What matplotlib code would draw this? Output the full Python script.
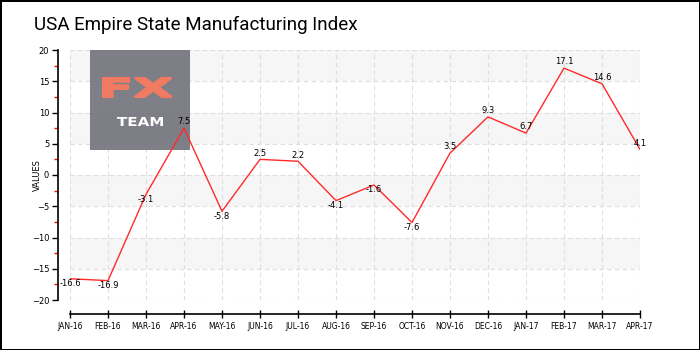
import matplotlib
matplotlib.use('Agg')
import matplotlib.pyplot as plt
from matplotlib.patches import Rectangle, PathPatch
from matplotlib.ticker import MultipleLocator
from matplotlib.textpath import TextPath
from matplotlib.font_manager import FontProperties
from matplotlib.transforms import Affine2D

# data
months = ['JAN-16', 'FEB-16', 'MAR-16', 'APR-16', 'MAY-16', 'JUN-16', 'JUL-16',
          'AUG-16', 'SEP-16', 'OCT-16', 'NOV-16', 'DEC-16', 'JAN-17', 'FEB-17',
          'MAR-17', 'APR-17']
values = [-16.6, -16.9, -3.1, 7.5, -5.8, 2.5, 2.2, -4.1, -1.6, -7.6, 3.5, 9.3,
          6.7, 17.1, 14.6, 4.1]
value_labels = ['-16.6', '-16.9', '-3.1', '7.5', '-5.8', '2.5', '2.2', '-4.1',
                '-1.6', '-7.6', '3.5', '9.3', '6.7', '17.1', '14.6', '4.1']
bands = [(15, 20), (5, 10), (-5, 0), (-15, -10)]

fig = plt.figure(figsize=(7, 3.5), dpi=100, linewidth=2, edgecolor='black')
ax = fig.add_axes([70 / 700, 50 / 350, 570 / 700, 250 / 350])

x = list(range(len(months)))

# striped background + dashed grid
for lo, hi in bands:
    ax.axhspan(lo, hi, color='#f6f6f6', zorder=0, lw=0)
ax.grid(True, color='#dedede', linestyle=(0, (4, 3)), linewidth=0.8, zorder=0.5)
ax.set_axisbelow(True)

ax.plot(x, values, color='#ff2a2a', linewidth=1.0, zorder=3)

for xi, v, lab in zip(x, values, value_labels):
    off = 4.5 if v > 0 else -3.5
    ax.annotate(lab, (xi, v), xytext=(0, off), textcoords='offset points',
                ha='center', va='center', fontsize=6, zorder=4)

ax.set_xlim(0, len(months) - 1)
ax.set_ylim(-20, 20)
ax.set_xticks(x)
ax.set_xticklabels(months)
ax.yaxis.set_major_locator(MultipleLocator(5))
ax.yaxis.set_minor_locator(MultipleLocator(2.5))
ax.tick_params(axis='y', which='major', labelsize=6, length=4, width=1, pad=2)
ax.tick_params(axis='y', which='minor', length=3, width=1, color='red')
ax.tick_params(axis='x', which='major', direction='inout', length=6, width=1,
               pad=3, labelsize=5.5)

for s in ['top', 'right']:
    ax.spines[s].set_visible(False)
ax.spines['left'].set_position(('outward', 9))
ax.spines['bottom'].set_position(('outward', 10))
ax.spines['left'].set_linewidth(1.2)
ax.spines['bottom'].set_linewidth(1.2)


def stretched_text(s, left, bottom, width, height, color, stroke=0):
    # text drawn as a path, scaled to fit a pixel box (display coords)
    tp = TextPath((0, 0), s, size=10,
                  prop=FontProperties(family='DejaVu Sans', weight='bold'))
    ext = tp.get_extents()
    tr = (Affine2D().translate(-ext.x0, -ext.y0)
          .scale(width / ext.width, height / ext.height)
          .translate(left, bottom))
    ax.add_patch(PathPatch(tp, transform=tr, facecolor=color, edgecolor=color,
                           lw=stroke, zorder=2, clip_on=False))


# watermark box, under the line but over the grid
ax.add_patch(Rectangle((90 / 700, 200 / 350), 100 / 700, 100 / 350,
                       transform=fig.transFigure, color='#75757e',
                       alpha=0.93, zorder=1.5, lw=0, clip_on=False))
stretched_text('FX', 103, 350 - 97, 69, 19, '#f07a62', stroke=1.5)
stretched_text('TEAM', 117, 350 - 126, 46, 9, 'white')

fig.text(37 / 700, 0.5, 'VALUES', rotation=90, ha='center', va='center', fontsize=6)
fig.text(34 / 700, 1 - 30 / 350, 'USA Empire State Manufacturing Index',
         ha='left', va='baseline', fontsize=13.5, family=['Roboto', 'DejaVu Sans'])

fig.savefig('out.png', dpi=100)
